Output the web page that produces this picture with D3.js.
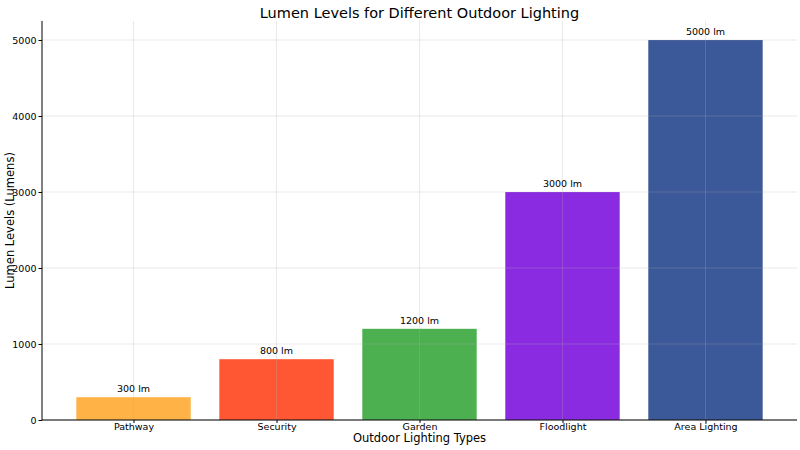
<!DOCTYPE html>
<html><head><meta charset="utf-8">
<script src="https://cdn.jsdelivr.net/npm/d3@7"></script>
<style>body{margin:0;background:#fff}text{font-family:"DejaVu Sans",sans-serif}</style>
</head><body><svg id="c" width="800" height="450"></svg>
<script>
const categories=["Pathway","Security","Garden","Floodlight","Area Lighting"];
const values=[300,800,1200,3000,5000];
const colors=["#FFB347","#FF5733","#4CAF50","#8A2BE2","#3B5998"];
const yTicks=[0,1000,2000,3000,4000,5000];
const svg=d3.select("#c");
const L=42,R=797,T=21,B=420;
const x=d3.scaleLinear().domain([-0.64,4.64]).range([L,R]);
const y=d3.scaleLinear().domain([0,5250]).range([B,T]);
const g=svg.append("g");
g.selectAll(".b").data(values).join("rect").attr("x",(d,i)=>x(i-0.4)).attr("width",x(0.8)-x(0))
 .attr("y",d=>y(d)).attr("height",d=>B-y(d)).attr("fill",(d,i)=>colors[i]);
g.selectAll(".gy").data(yTicks).join("line").attr("x1",L).attr("x2",R).attr("y1",d=>y(d)).attr("y2",d=>y(d))
 .attr("stroke","#b0b0b0").attr("stroke-opacity",0.35).attr("stroke-width",0.8);
g.selectAll(".gx").data(categories).join("line").attr("x1",(d,i)=>x(i)).attr("x2",(d,i)=>x(i)).attr("y1",T).attr("y2",B)
 .attr("stroke","#b0b0b0").attr("stroke-opacity",0.35).attr("stroke-width",0.8);
g.selectAll(".lb").data(values).join("text").attr("x",(d,i)=>x(i)).attr("y",d=>y(d)-5).attr("text-anchor","middle")
 .attr("font-size",9.5).text(d=>d+" lm");
const ya=svg.append("g").attr("transform",`translate(${L},0)`).call(d3.axisLeft(y).tickValues(yTicks).tickSize(3.5).tickPadding(2).tickFormat(d3.format("d")));
const xa=svg.append("g").attr("transform",`translate(0,${B})`).call(d3.axisBottom(x).tickValues([0,1,2,3,4]).tickSize(3).tickPadding(0).tickFormat(i=>categories[i]));
[ya,xa].forEach(a=>{a.selectAll("text").attr("font-size",9.5).attr("fill","#000");a.selectAll("line,path").attr("stroke","#000");});
ya.select(".domain").attr("d",`M0,${B}V${T}`);
xa.select(".domain").attr("d",`M${L},0H${R}`);
svg.append("text").attr("x",(L+R)/2).attr("y",18).attr("text-anchor","middle").attr("font-size",14.5).text("Lumen Levels for Different Outdoor Lighting");
svg.append("text").attr("x",(L+R)/2).attr("y",442).attr("text-anchor","middle").attr("font-size",11.5).text("Outdoor Lighting Types");
svg.append("text").attr("transform",`translate(14,${(T+B)/2}) rotate(-90)`).attr("text-anchor","middle").attr("font-size",11.5).text("Lumen Levels (Lumens)");
</script></body></html>
